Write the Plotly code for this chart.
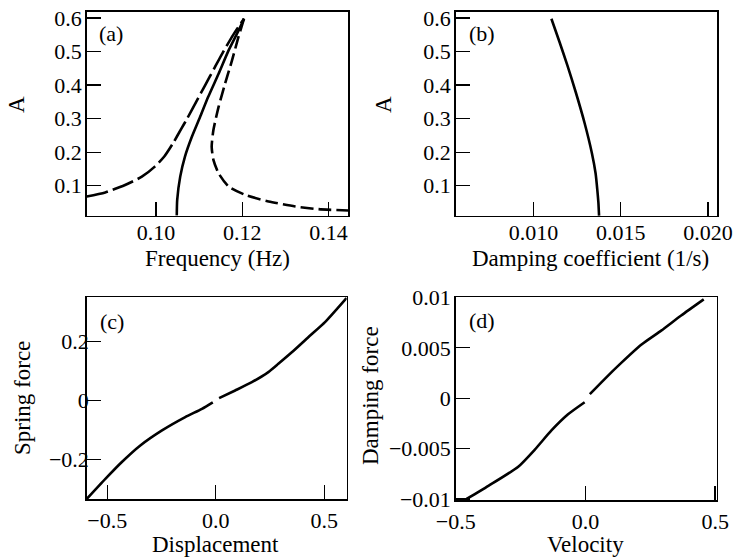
import plotly.graph_objects as go

# ---------------- data ----------------
# (a) amplitude vs frequency
freq_branch1 = [0.0839, 0.0882, 0.0928, 0.0967, 0.0997, 0.1019, 0.1039, 0.1059, 0.1072, 0.1093, 0.1114, 0.1135, 0.1156, 0.1179, 0.1204]
amp_branch1 = [0.068, 0.080, 0.102, 0.127, 0.157, 0.187, 0.226, 0.271, 0.300, 0.350, 0.400, 0.450, 0.500, 0.550, 0.598]

freq_branch2 = [0.1048, 0.1049, 0.1056, 0.1067, 0.1083, 0.1102, 0.1121, 0.1145, 0.1168, 0.1191, 0.1204]
amp_branch2 = [0.011, 0.058, 0.127, 0.187, 0.246, 0.305, 0.365, 0.434, 0.503, 0.562, 0.598]

freq_branch3 = [0.1204, 0.1191, 0.1176, 0.1160, 0.1145, 0.1133, 0.1129, 0.1133, 0.1145, 0.1168, 0.1206, 0.1261, 0.1323, 0.1377, 0.1446]
amp_branch3 = [0.598, 0.543, 0.473, 0.404, 0.335, 0.266, 0.216, 0.177, 0.137, 0.098, 0.073, 0.053, 0.038, 0.030, 0.026]

# (b) amplitude vs damping coefficient
damp_coef = [0.01103, 0.01150, 0.01195, 0.01243, 0.01293, 0.01335, 0.01356, 0.01366, 0.01372, 0.01376]
amp_damp = [0.598, 0.528, 0.458, 0.378, 0.287, 0.197, 0.137, 0.087, 0.050, 0.010]

# (c) spring force vs displacement
disp_neg = [-0.595, -0.509, -0.433, -0.348, -0.248, -0.141, -0.064, -0.014]
spring_neg = [-0.333, -0.265, -0.208, -0.152, -0.101, -0.056, -0.028, -0.006]
disp_pos = [0.015, 0.089, 0.166, 0.242, 0.288, 0.350, 0.426, 0.503, 0.603]
spring_pos = [0.008, 0.034, 0.062, 0.096, 0.124, 0.163, 0.214, 0.265, 0.347]

# (d) damping force vs velocity
vel_neg = [-0.458, -0.374, -0.259, -0.195, -0.131, -0.067, -0.003]
dforce_neg = [-0.0100, -0.0087, -0.0068, -0.0051, -0.0032, -0.0016, -0.0004]
vel_pos = [0.017, 0.074, 0.138, 0.215, 0.292, 0.369, 0.456]
dforce_pos = [0.0004, 0.0019, 0.0035, 0.0053, 0.0067, 0.0082, 0.0098]

# tick labels
a_xticks = [0.10, 0.12, 0.14]
a_xtext = ["0.10", "0.12", "0.14"]
amp_ticks = [0.1, 0.2, 0.3, 0.4, 0.5, 0.6]
amp_text = ["0.1", "0.2", "0.3", "0.4", "0.5", "0.6"]
b_xticks = [0.010, 0.015, 0.020]
b_xtext = ["0.010", "0.015", "0.020"]
c_xticks = [-0.5, 0.0, 0.5]
c_xtext = ["\u22120.5", "0.0", "0.5"]
c_yticks = [-0.2, 0.0, 0.2]
c_ytext = ["\u22120.2", "0", "0.2"]
d_xticks = [-0.5, 0.0, 0.5]
d_xtext = ["\u22120.5", "0.0", "0.5"]
d_yticks = [-0.01, -0.005, 0.0, 0.005, 0.01]
d_ytext = ["\u22120.01", "\u22120.005", "0", "0.005", "0.01"]

# ---------------- figure ----------------
W, H = 735, 559
FONT = "'Liberation Serif', 'Times New Roman', serif"
TICKSIZE = 22
TITLESIZE = 23
LW = 2.6

fig = go.Figure()

def line(x, y, xa, ya, dash="solid"):
    fig.add_trace(go.Scatter(x=x, y=y, xaxis=xa, yaxis=ya, mode="lines",
                             line=dict(color="black", width=LW, dash=dash, shape="spline", smoothing=0.6),
                             showlegend=False, hoverinfo="skip"))

line(freq_branch1, amp_branch1, "x", "y", "22px,5px")
line(freq_branch2, amp_branch2, "x", "y")
line(freq_branch3, amp_branch3, "x", "y", "13px,5px")
line(damp_coef, amp_damp, "x2", "y2")
line(disp_neg, spring_neg, "x3", "y3")
line(disp_pos, spring_pos, "x3", "y3")
line(vel_neg, dforce_neg, "x4", "y4")
line(vel_pos, dforce_pos, "x4", "y4")

def px_x(a, b):
    return [a / W, b / W]

def px_y(top, bottom):
    return [1 - bottom / H, 1 - top / H]

def axis(domain, rng, tv, tt, anchor, standoff):
    return dict(domain=domain, range=rng, tickvals=tv, ticktext=tt, anchor=anchor,
                automargin=False, ticklabeloverflow="allow",
                showline=True, linecolor="black", linewidth=1.5, mirror=True,
                ticks="inside", ticklen=14, tickwidth=1.3, tickcolor="black",
                showgrid=False, zeroline=False, ticklabelstandoff=standoff,
                tickfont=dict(family=FONT, size=TICKSIZE, color="black"), fixedrange=True)

AMP_RANGE = [0.0105, 0.619]
fig.update_layout(
    width=W, height=H, margin=dict(l=0, r=0, t=0, b=0, autoexpand=False),
    paper_bgcolor="white", plot_bgcolor="white",
    font=dict(family=FONT, color="black"),
    xaxis=axis(px_x(86.7, 348.3), [0.0839, 0.1446], a_xticks, a_xtext, "y", -4),
    yaxis=axis(px_y(11.7, 215.7), AMP_RANGE, amp_ticks, amp_text, "x", -1),
    xaxis2=axis(px_x(455.7, 717.3), [0.00555, 0.02053], b_xticks, b_xtext, "y2", -4),
    yaxis2=axis(px_y(11.7, 215.7), AMP_RANGE, amp_ticks, amp_text, "x2", -1),
    xaxis3=axis(px_x(86.7, 346.7), [-0.595, 0.603], c_xticks, c_xtext, "y3", 1),
    yaxis3=axis(px_y(297.3, 499), [-0.333, 0.349], c_yticks, c_ytext, "x3", -8),
    xaxis4=axis(px_x(455.7, 716.7), [-0.5, 0.506], d_xticks, d_xtext, "y4", 1),
    yaxis4=axis(px_y(297.3, 500), [-0.0101, 0.01001], d_yticks, d_ytext, "x4", -1),
)

def text(s, x, y, size=TITLESIZE, angle=0, xanchor="center"):
    fig.add_annotation(text=s, x=x / W, y=1 - y / H, xref="paper", yref="paper",
                       showarrow=False, textangle=angle, xanchor=xanchor, yanchor="middle",
                       font=dict(family=FONT, size=size, color="black"))

# panel labels
text("(a)", 97, 34, TICKSIZE, xanchor="left")
text("(b)", 467, 34, TICKSIZE, xanchor="left")
text("(c)", 98, 321, TICKSIZE, xanchor="left")
text("(d)", 467, 320, TICKSIZE, xanchor="left")

# axis titles
text("Frequency (Hz)", 217.5, 258)
text("Damping coefficient (1/s)", 590, 258)
text("Displacement", 215, 544)
text("Velocity", 585, 544)
text("A", 16, 104, angle=-90)
text("A", 383, 104, angle=-90)
text("Spring force", 22, 398, angle=-90)
text("Damping force", 370, 396, angle=-90)

# make the figure fill the page exactly (no default body margin / scrollbars)
fig.write_html("out.html",
               config={"displayModeBar": False, "staticPlot": True},
               post_script="document.body.style.margin='0px';document.body.style.overflow='hidden';")
